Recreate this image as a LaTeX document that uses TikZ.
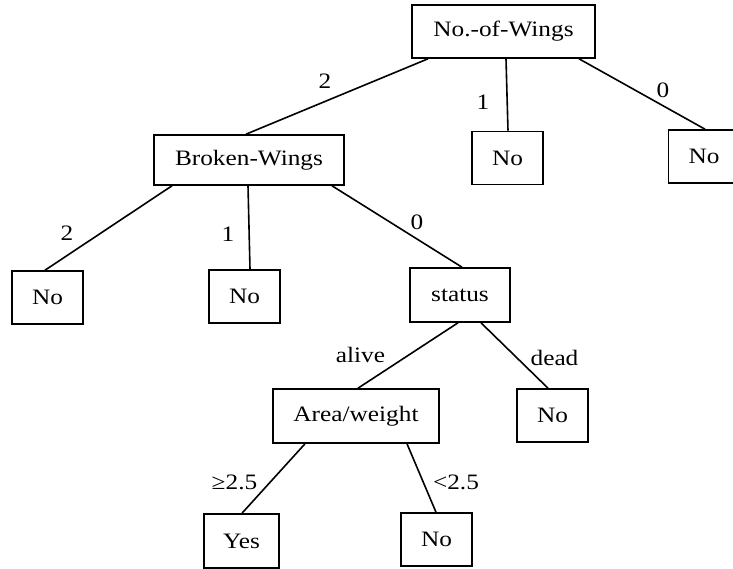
\documentclass[tikz,border=0pt]{standalone}
\usepackage{fontspec}
\setmainfont[FakeStretch=1.15]{Liberation Serif}
\begin{document}
\begin{tikzpicture}[x=1pt,y=-1pt,
  box/.style={draw, line width=1.6pt, inner sep=0pt, font=\fontsize{22}{26}\selectfont},
  nobox/.style={box, minimum width=71pt, minimum height=53pt},
  lbl/.style={font=\fontsize{22}{26}\selectfont, inner sep=0pt},
  edge/.style={line width=1.6pt}]
\useasboundingbox (0,0) rectangle (733,569);
% nodes
\node[box, minimum width=183pt, minimum height=53pt] (root) at (503.5,31.5) {No.-of-Wings};
\node[box, minimum width=190pt, minimum height=50pt] (bw) at (249,160) {Broken-Wings};
\node[nobox] (noA) at (507.5,158) {No};
\node[nobox] (noB) at (704,156.5) {No};
\node[nobox] (noL) at (47.5,297.5) {No};
\node[nobox] (noM) at (244.5,296.5) {No};
\node[box, minimum width=100pt, minimum height=54pt] (status) at (460,295) {status};
\node[nobox] (noD) at (552.5,415.5) {No};
\node[box, minimum width=166pt, minimum height=54pt] (area) at (356,416) {Area/weight};
\node[box, minimum width=75pt, minimum height=54pt] (yes) at (241.5,541) {Yes};
\node[nobox] (noN) at (436.5,539.5) {No};
% edges
\draw[edge] ([xshift=-75.5pt]root.south) -- ([xshift=-3pt]bw.north);
\draw[edge] ([xshift=2.5pt]root.south) -- ([xshift=0.5pt]noA.north);
\draw[edge] ([xshift=75.5pt]root.south) -- ([xshift=1pt]noB.north);
\draw[edge] ([xshift=-77pt]bw.south) -- ([xshift=-2.5pt]noL.north);
\draw[edge] ([xshift=-1pt]bw.south) -- ([xshift=5.5pt]noM.north);
\draw[edge] ([xshift=83pt]bw.south) -- ([xshift=2pt]status.north);
\draw[edge] ([xshift=-2pt]status.south) -- ([xshift=2pt]area.north);
\draw[edge] ([xshift=21pt]status.south) -- ([xshift=-4.5pt]noD.north);
\draw[edge] ([xshift=-51pt]area.south) -- ([xshift=0.5pt]yes.north);
\draw[edge] ([xshift=51pt]area.south) -- ([xshift=-0.5pt]noN.north);
% labels
\node[lbl] (l1) at (325,81) {2};
\node[lbl] (l2) at (483,102) {1};
\node[lbl] (l3) at (663,90) {0};
\node[lbl] (l4) at (67,233) {2};
\node[lbl] (l5) at (228,234) {1};
\node[lbl] (l6) at (417,222) {0};
\node[lbl] (l7) at (360.5,355) {alive};
\node[lbl] (l8) at (554.5,358) {dead};
\node[lbl] (l9) at (234.5,482) {≥2.5};
\node[lbl] (l10) at (456,482) {<2.5};
\end{tikzpicture}
\end{document}
